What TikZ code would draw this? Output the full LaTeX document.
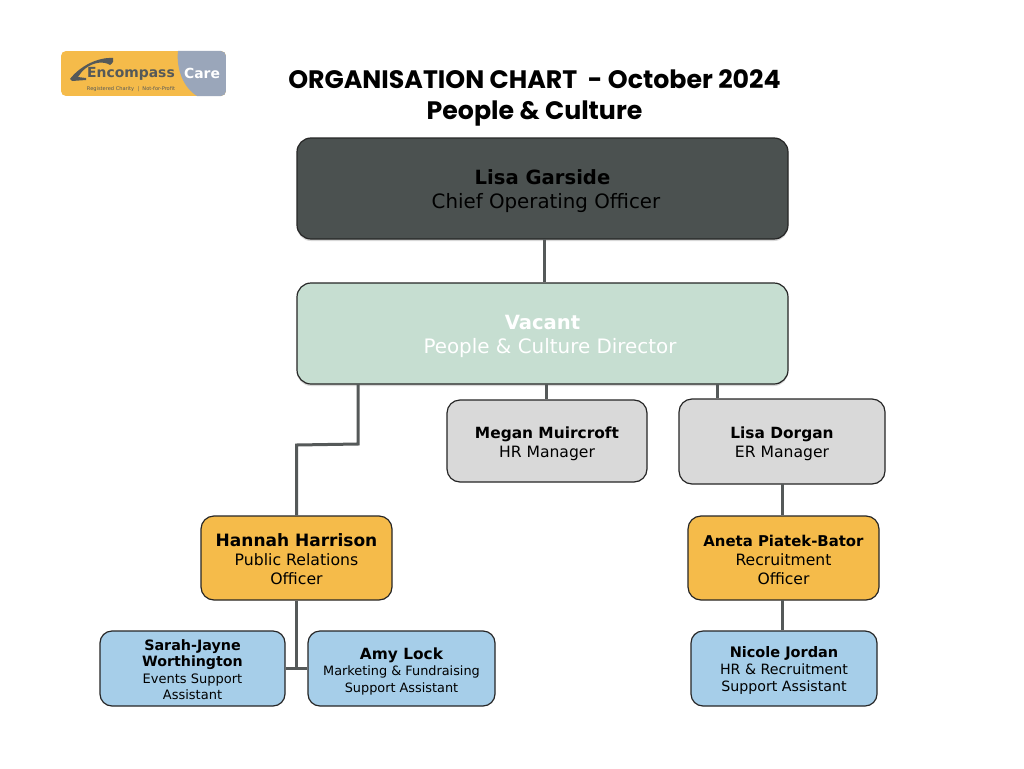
\documentclass[tikz,border=0pt]{standalone}
\usepackage{fontspec}
\setmainfont{DejaVu Sans}
\newfontfamily\titlefont{Poppins}
\usetikzlibrary{shadows}
\definecolor{darkbox}{HTML}{4B5150}
\definecolor{mintbox}{HTML}{C6DED1}
\definecolor{greybox}{HTML}{D9D9D9}
\definecolor{amberbox}{HTML}{F5BB4A}
\definecolor{bluebox}{HTML}{A6CEE9}
\definecolor{linkgrey}{HTML}{555959}
\definecolor{logogrey}{HTML}{9AA6BA}
\newcommand{\fs}[1]{\fontsize{#1}{#1}\selectfont}
\newcommand{\lead}[1]{\fontsize{10}{#1}\selectfont}
\newcommand{\topgap}[1]{\rule{0pt}{#1}}
\begin{document}
\begin{tikzpicture}[x=1pt,y=-1pt,
	box/.style={draw=black!85,line width=1.2pt,rounded corners=14pt,align=center,inner sep=0pt},
	softshadow/.style={drop shadow={shadow xshift=0pt,shadow yshift=-2pt,opacity=.3}},
	bigbox/.style={box,softshadow,minimum width=491pt,minimum height=101pt,font=\lead{24}},
	midbox/.style={box,rounded corners=13pt,font=\lead{19}},
	smallbox/.style={box,rounded corners=12pt,minimum height=75pt,font=\lead{16.5}},
	link/.style={draw=linkgrey,line width=3pt}]
	\useasboundingbox (0,0) rectangle (1024,768);
	\fill[white] (0,0) rectangle (1024,768);
	\begin{scope}
		\clip[rounded corners=5pt] (61,51) rectangle (226,96);
		\fill[amberbox] (61,51) rectangle (226,96);
		\fill[logogrey] (226,51)--(178,51) .. controls (176,70) and (184,88) .. (197,96)--(226,96)--cycle;
	\end{scope}
	\fill[linkgrey] (70,79) .. controls (80,66) and (98,57) .. (113,58) .. controls (114,61) and (113,63) .. (110,65) .. controls (104,61) and (94,62) .. (86,68) .. controls (82,71) and (80,74) .. (78,77)--(86,78)--(86,80)--(72,81)--cycle;
	\node[inner sep=0pt,text=linkgrey,font=\fs{13.9}\bfseries] (logoname) at (131,74) {Encompass};
	\node[inner sep=0pt,text=white,font=\fs{13.9}\bfseries] (logocare) at (202,73) {Care};
	\node[inner sep=0pt,text=linkgrey,font=\fs{5.1}] (logotag) at (131,89) {Registered Charity \ | \ Not-for-Profit};

	\node[align=center,inner sep=0pt,font=\lead{31}] (title) at (534.5,98) {{\titlefont\fs{25.25}\bfseries ORGANISATION CHART\ \ - October 2024}\\{\titlefont\fs{25.25}\bfseries People \& Culture}};

	\node[bigbox,fill=darkbox] (garside) at (542.5,188.5) {\topgap{20pt}{\fs{19.6}\bfseries Lisa Garside}\\\hspace*{7pt}{\fs{19.8}Chief Operating Officer}};
	\node[bigbox,fill=mintbox,text=white] (vacant) at (542.5,333.5) {\topgap{20pt}{\fs{19.6}\bfseries Vacant}\\\hspace*{15pt}{\fs{19.9}People \& Culture Director}};
	\node[midbox,fill=greybox,minimum width=200pt,minimum height=82pt] (megan) at (547,441) {\topgap{17pt}{\fs{15.4}\bfseries Megan Muircroft}\\{\fs{15.6}HR Manager}};
	\node[midbox,fill=greybox,minimum width=206pt,minimum height=85pt] (dorgan) at (782,441.5) {\topgap{16pt}{\fs{15.4}\bfseries Lisa Dorgan}\\{\fs{15.6}ER Manager}};
	\node[midbox,fill=amberbox,minimum width=191pt,minimum height=84pt] (hannah) at (296.5,558) {\topgap{15pt}{\fs{17}\bfseries Hannah Harrison}\\{\fs{15.7}Public Relations}\\{\fs{15.7}Officer}};
	\node[midbox,fill=amberbox,minimum width=191pt,minimum height=84pt] (aneta) at (783.5,558) {\topgap{15pt}{\fs{14.9}\bfseries Aneta Piatek-Bator}\\{\fs{15.6}Recruitment}\\{\fs{15.6}Officer}};
	\node[smallbox,fill=bluebox,minimum width=185pt] (sarah) at (192.5,668.5) {\topgap{13pt}{\fs{14.3}\bfseries Sarah-Jayne}\\{\fs{14.2}\bfseries Worthington}\\{\fs{13}Events Support}\\{\fs{13}Assistant}};
	\node[smallbox,fill=bluebox,minimum width=187pt] (amy) at (401.5,668.5) {\topgap{17pt}{\fs{15.4}\bfseries Amy Lock}\\{\fs{12.85}Marketing \& Fundraising}\\{\fs{12.85}Support Assistant}};
	\node[smallbox,fill=bluebox,minimum width=186pt,font=\lead{17}] (nicole) at (784,668.5) {\topgap{14pt}{\fs{14.5}\bfseries Nicole Jordan}\\{\fs{14.2}HR \& Recruitment}\\{\fs{14.2}Support Assistant}};

	\coordinate (garsidefoot) at (544,239);
	\coordinate (vacantmegan) at (546,384);
	\coordinate (vacantdorgan) at (717,384);
	\coordinate (vacantleft) at (358,384);
	\coordinate (kinka) at (358,444);
	\coordinate (kinkb) at (296.5,445);
	\coordinate (dorganfoot) at (782,484);
	\coordinate (anetafoot) at (782,600);
	\coordinate (teamjoin) at (296.5,668);
	\draw[link] (garsidefoot)--(garsidefoot |- vacant.north);
	\draw[link] (vacantmegan)--(vacantmegan |- megan.north);
	\draw[link] (vacantdorgan)--(vacantdorgan |- dorgan.north);
	\draw[link] (vacantleft)--(kinka)--(kinkb)--(hannah.north);
	\draw[link] (dorganfoot)--(dorganfoot |- aneta.north);
	\draw[link] (anetafoot)--(anetafoot |- nicole.north);
	\draw[link] (hannah.south)--(teamjoin);
	\draw[link] (sarah.east)--(amy.west);
\end{tikzpicture}
\end{document}
